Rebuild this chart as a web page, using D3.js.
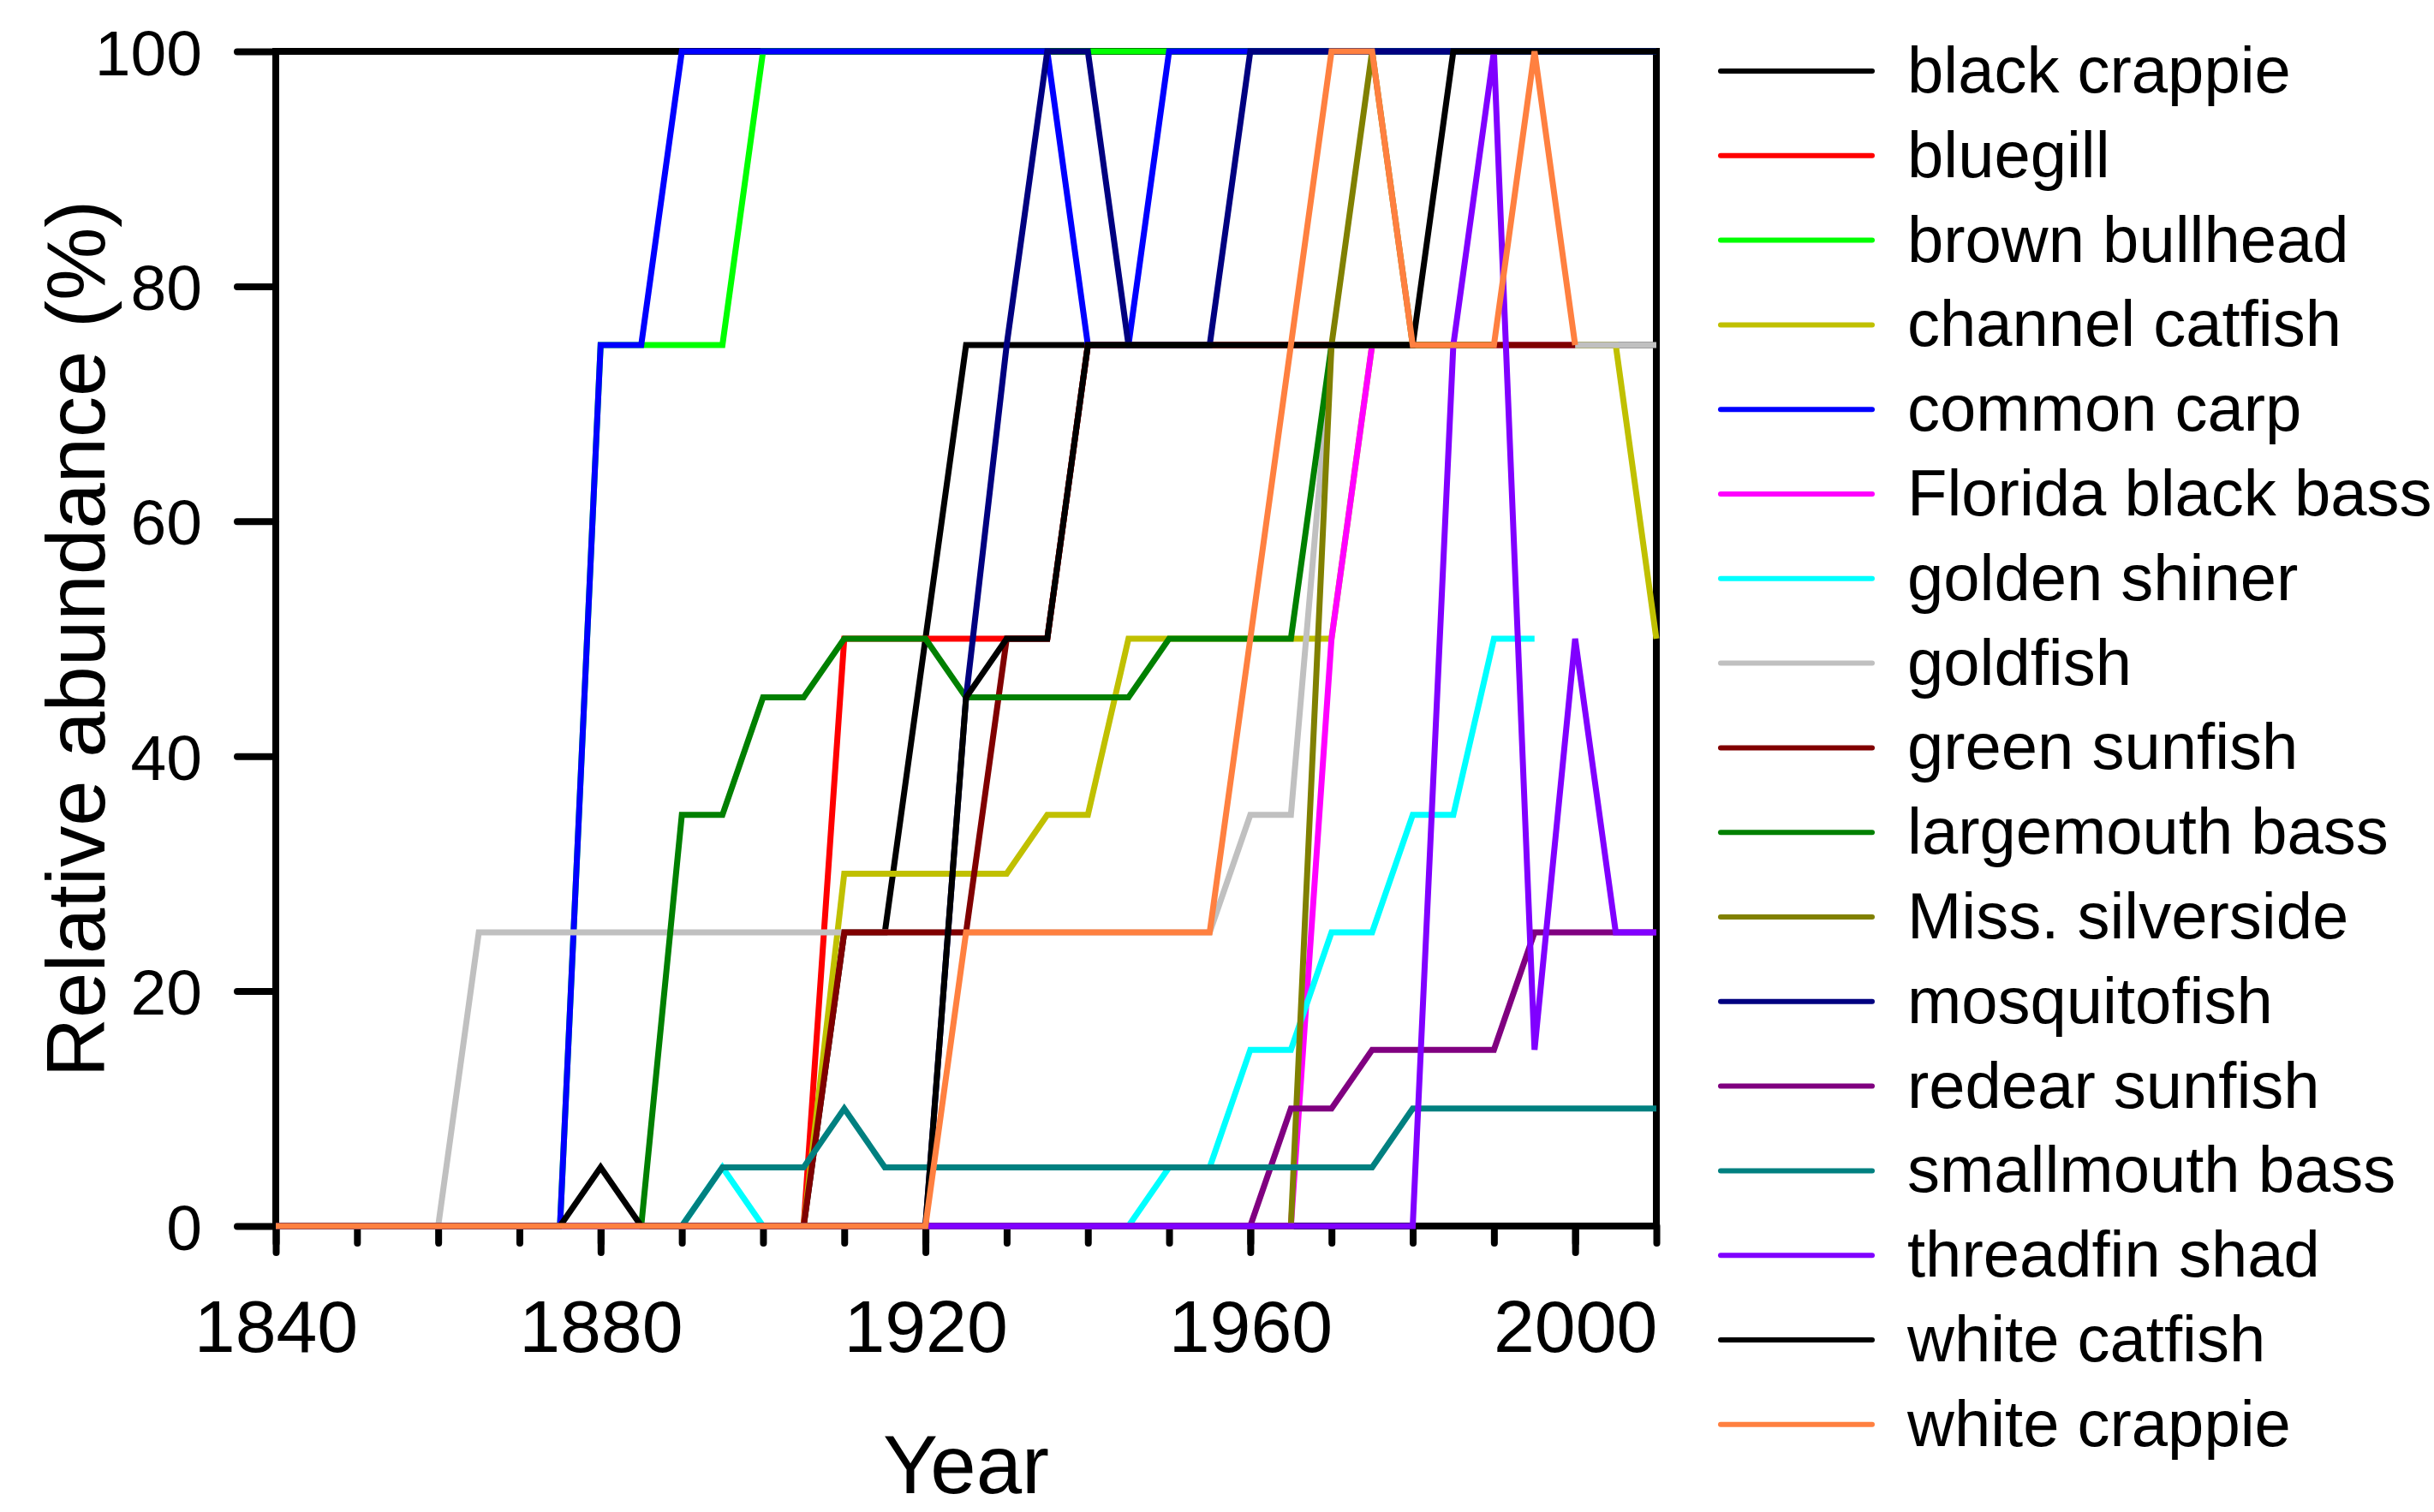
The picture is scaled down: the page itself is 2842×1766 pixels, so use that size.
<html>
<head>
<meta charset="utf-8">
<script src="https://d3js.org/d3.v7.min.js"></script>
<style>
body {
	margin: 0;
	background: #fff;
}
svg text {
	font-family: "Liberation Sans", Arial, sans-serif;
	fill: #000;
}
</style>
</head>
<body>

<svg id="chart" width="2842" height="1766"></svg>

<script>

// survey years, every 5 years
var years = [1840,1845,1850,1855,1860,1865,1870,1875,1880,1885,1890,1895,1900,1905,1910,1915,1920,
	1925,1930,1935,1940,1945,1950,1955,1960,1965,1970,1975,1980,1985,1990,1995,2000,2005,2010]

var species = ["black crappie","bluegill","brown bullhead","channel catfish","common carp",
	"Florida black bass","golden shiner","goldfish","green sunfish","largemouth bass",
	"Miss. silverside","mosquitofish","redear sunfish","smallmouth bass","threadfin shad",
	"white catfish","white crappie"]

var colors = ["#000000","#ff0000","#00ff00","#c0c000","#0000ff","#ff00ff","#00ffff","#c0c0c0",
	"#800000","#008000","#808000","#000080","#800080","#008080","#8000ff","#000000","#ff8040"]

// relative abundance (%) per species, null = no record
var blackCrappie   = [0,0,0,0,0,0,0,0,0,0,0,0,0,0,25,25,50,75,75,75,75,75,75,75,75,75,75,75,75,75,75,75,75,75,75]
var bluegill       = [0,0,0,0,0,0,0,0,0,0,0,0,0,0,50,50,50,50,50,50,75,75,75,75,75,75,75,75,75,75,75,75,75,null,null]
var brownBullhead  = [0,0,0,0,0,0,0,0,75,75,75,75,100,100,100,100,100,100,100,100,100,100,100,100,100,100,100,100,100,100,100,100,100,100,100]
var channelCatfish = [0,0,0,0,0,0,0,0,0,0,0,0,0,0,30,30,30,30,30,35,35,50,50,50,50,50,50,75,75,75,75,75,75,75,50]
var commonCarp     = [0,0,0,0,0,0,0,0,75,75,100,100,100,100,100,100,100,100,100,100,75,75,100,100,100,100,100,100,100,100,100,100,100,100,100]
var floridaBass    = [0,0,0,0,0,0,0,0,0,0,0,0,0,0,0,0,0,0,0,0,0,0,0,0,0,0,50,75,75,75,75,75,75,null,null]
var goldenShiner   = [0,0,0,0,0,0,0,0,0,0,0,5,0,0,0,0,0,0,0,0,0,0,5,5,15,15,25,25,35,35,50,50,null,null,null]
var goldfish       = [0,0,0,0,0,25,25,25,25,25,25,25,25,25,25,25,25,25,25,25,25,25,25,25,35,35,75,75,75,75,75,75,75,75,75]
var greenSunfish   = [0,0,0,0,0,0,0,0,0,0,0,0,0,0,25,25,25,25,50,50,75,75,75,75,75,75,75,75,75,75,75,75,75,null,null]
var largemouthBass = [0,0,0,0,0,0,0,0,0,0,35,35,45,45,50,50,50,45,45,45,45,45,50,50,50,50,75,75,75,75,75,null,null,null,null]
var silverside     = [0,0,0,0,0,0,0,0,0,0,0,0,0,0,0,0,0,0,0,0,0,0,0,0,0,0,75,100,75,75,75,null,null,null,null]
var mosquitofish   = [0,0,0,0,0,0,0,0,0,0,0,0,0,0,0,0,0,45,75,100,100,75,75,75,100,100,100,100,100,100,100,100,100,100,100]
var redearSunfish  = [0,0,0,0,0,0,0,0,0,0,0,0,0,0,0,0,0,0,0,0,0,0,0,0,0,10,10,15,15,15,15,25,25,25,25]
var smallmouthBass = [0,0,0,0,0,0,0,0,0,0,0,5,5,5,10,5,5,5,5,5,5,5,5,5,5,5,5,5,10,10,10,10,10,10,10]
var threadfinShad  = [0,0,0,0,0,0,0,0,0,0,0,0,0,0,0,0,0,0,0,0,0,0,0,0,0,0,0,0,0,75,100,15,50,25,25]
var whiteCatfish   = [0,0,0,0,0,0,0,0,5,0,0,0,0,0,0,0,0,45,50,50,75,75,75,75,75,75,75,75,75,100,100,100,100,100,100]
var whiteCrappie   = [0,0,0,0,0,0,0,0,0,0,0,0,0,0,0,0,0,25,25,25,25,25,25,25,50,75,100,100,75,75,75,100,75,null,null]

var values = [blackCrappie, bluegill, brownBullhead, channelCatfish, commonCarp, floridaBass,
	goldenShiner, goldfish, greenSunfish, largemouthBass, silverside, mosquitofish,
	redearSunfish, smallmouthBass, threadfinShad, whiteCatfish, whiteCrappie]

var xTicks = d3.range(1840, 2011, 10)
var xLabels = [1840, 1880, 1920, 1960, 2000]
var yTicks = [0, 20, 40, 60, 80, 100]

var series = species.map((name, i) => ({
	name: name,
	color: colors[i],
	points: years.map((yr, j) => ({year: yr, value: values[i][j]}))
}))

var svg = d3.select("#chart"),
	margin = {top: 60, left: 322, bottom: 334, right: 908},
	width = +svg.attr("width"),
	height = +svg.attr("height");

var x = d3.scaleLinear()
	.domain([1840, 2010])
	.range([margin.left, width - margin.right])

var y = d3.scaleLinear()
	.domain([0, 100])
	.range([height - margin.bottom, margin.top])

// minor x ticks
svg.append("g")
	.attr("class", "x-minor")
	.attr("transform", `translate(0,${y(0)})`)
	.call(d3.axisBottom(x).tickValues(xTicks).tickSize(20).tickFormat(""))

// labelled x ticks
svg.append("g")
	.attr("class", "x-axis")
	.attr("transform", `translate(0,${y(0)})`)
	.call(d3.axisBottom(x).tickValues(xLabels).tickSize(31).tickFormat(d3.format("d")))
	.selectAll("text")
	.attr("y", 147)
	.attr("dy", null)
	.style("font-size", "86px")

svg.append("g")
	.attr("class", "y-axis")
	.attr("transform", `translate(${x(1840)},0)`)
	.call(d3.axisLeft(y).tickValues(yTicks).tickSize(45))
	.selectAll("text")
	.attr("x", -86)
	.attr("dy", "0.36em")
	.style("font-size", "75px")

svg.selectAll(".domain").remove()
svg.selectAll(".tick line")
	.attr("stroke", "#000")
	.attr("stroke-width", 8)
	.attr("stroke-linecap", "round")

// plot frame
svg.append("rect")
	.attr("x", x(1840))
	.attr("y", y(100))
	.attr("width", x(2010) - x(1840))
	.attr("height", y(0) - y(100))
	.attr("fill", "none")
	.attr("stroke", "#000")
	.attr("stroke-width", 8)

var line = d3.line()
	.defined(d => d.value != null)
	.x(d => x(d.year))
	.y(d => y(d.value))

svg.append("g")
	.selectAll("path")
	.data(series)
	.enter()
	.append("path")
	.attr("fill", "none")
	.attr("stroke", d => d.color)
	.attr("stroke-width", 7)
	.attr("d", d => line(d.points))

// axis titles
svg.append("text")
	.attr("x", (x(1840) + x(2010)) / 2)
	.attr("y", 1744)
	.attr("text-anchor", "middle")
	.style("font-size", "96px")
	.text("Year")

svg.append("text")
	.attr("transform", `translate(122,${(y(0) + y(100)) / 2}) rotate(-90)`)
	.attr("text-anchor", "middle")
	.style("font-size", "96px")
	.text("Relative abundance (%)")

//make legend
var legend = svg.append("g")
	.selectAll("g")
	.data(series)
	.enter().append("g")
	.attr("transform", (d, i) => "translate(0," + (83 + i * 98.8) + ")")

legend.append("line")
	.attr("x1", 2009)
	.attr("x2", 2186)
	.attr("stroke", d => d.color)
	.attr("stroke-width", 6)
	.attr("stroke-linecap", "round")

legend.append("text")
	.attr("x", 2227)
	.attr("y", 25)
	.style("font-size", "76px")
	.text(d => d.name)

</script>

</body>
</html>
